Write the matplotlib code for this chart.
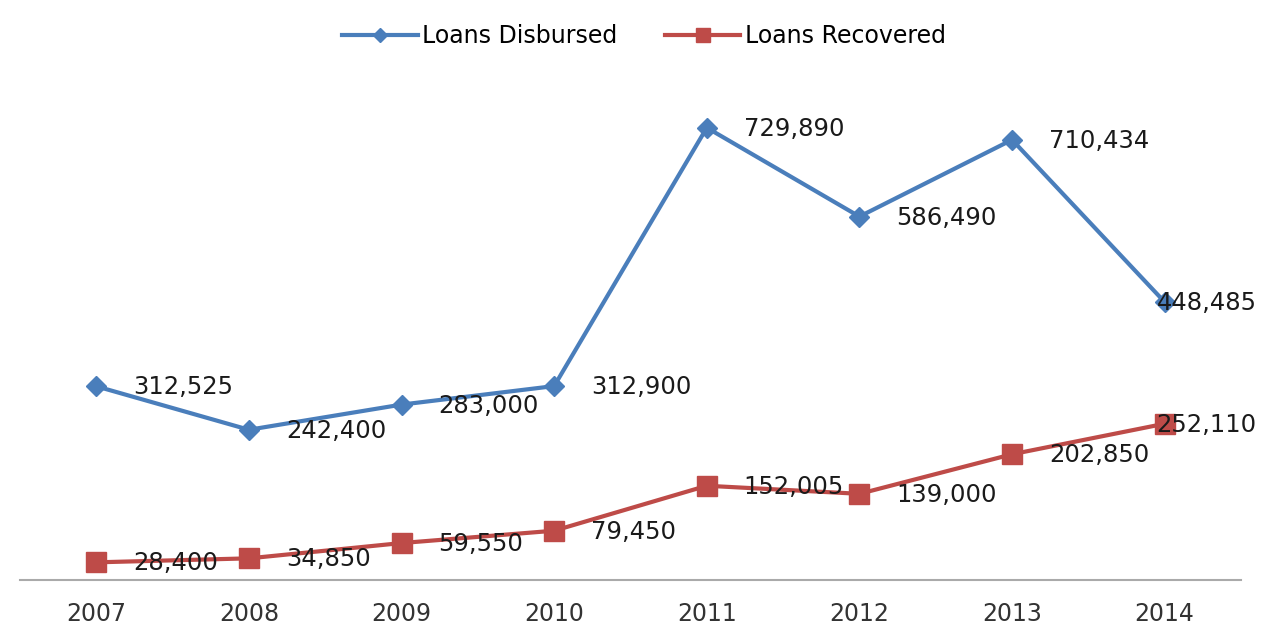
import matplotlib.pyplot as plt

# values
years = ['2007', '2008', '2009', '2010', '2011', '2012', '2013', '2014']
disbursed = [312525, 242400, 283000, 312900, 729890, 586490, 710434, 448485]
recovered = [28400, 34850, 59550, 79450, 152005, 139000, 202850, 252110]

blue = '#4A7EBB'
red = '#BE4B48'

fig = plt.figure(figsize=(12.88, 6.29), dpi=100)
ax = fig.add_axes([0.0155, 0.078, 0.948, 0.788])

x = range(len(years))
ax.plot(x, disbursed, color=blue, lw=3, marker='D', ms=10, label='Loans Disbursed')
ax.plot(x, recovered, color=red, lw=3, marker='s', ms=14, label='Loans Recovered')

for i in x:
    dx = -8 if i == len(years) - 1 else 37
    for v in (disbursed[i], recovered[i]):
        ax.annotate(f'{v:,}', (i, v), xytext=(dx, -1), textcoords='offset pixels',
                    ha='left', va='center', fontsize=17.5, color='#1a1a1a')

ax.set_xlim(-0.5, len(years) - 0.5)
ax.set_ylim(0, 800000)
ax.set_xticks(list(x))
ax.set_xticklabels(years, fontsize=17, color='#333333')
ax.set_yticks([])
ax.tick_params(axis='x', length=0, pad=16)
for s in ['top', 'right', 'left']:
    ax.spines[s].set_visible(False)
ax.spines['bottom'].set_color('#AAAAAA')
ax.spines['bottom'].set_linewidth(1.5)

fig.legend(loc='upper center', bbox_to_anchor=(0.5, 0.995), ncol=2, frameon=False,
           fontsize=17, handlelength=3.2, columnspacing=2.0, handletextpad=0.2,
           markerscale=0.7)

fig.savefig('out.png', dpi=100)
